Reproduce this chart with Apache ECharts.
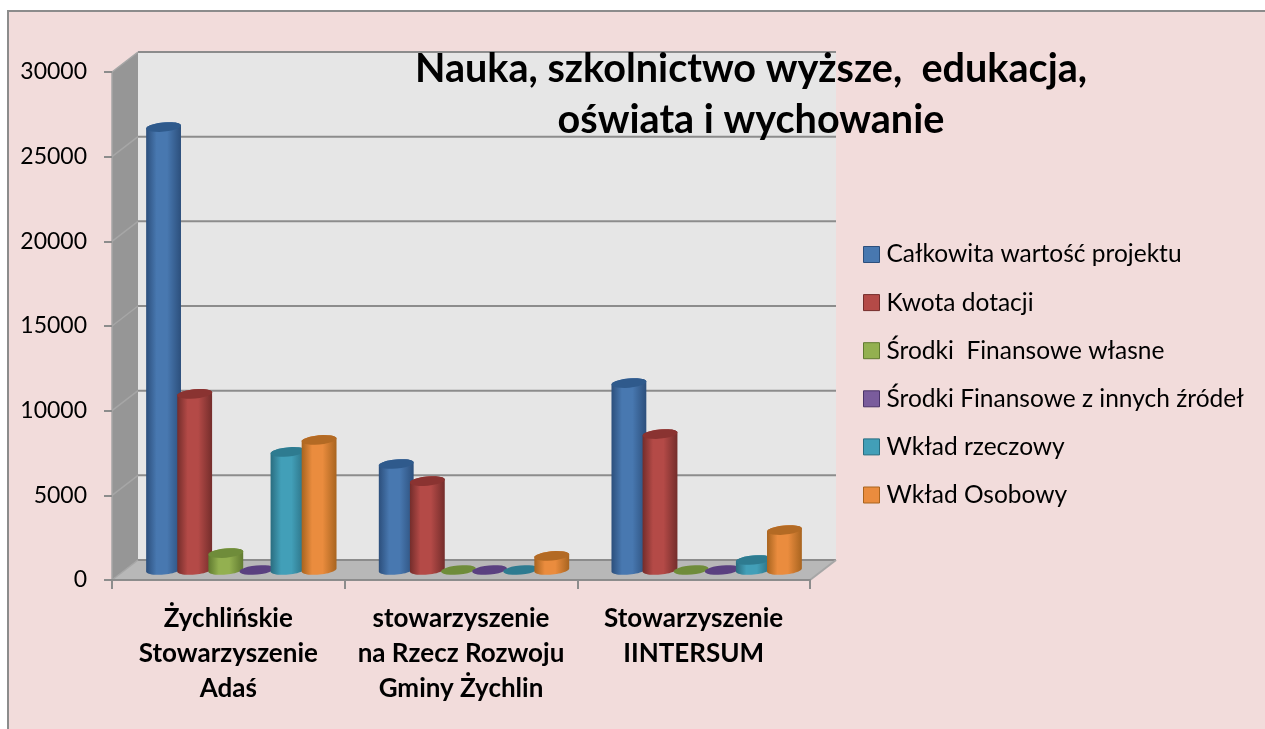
<!DOCTYPE html>
<html>
<head>
<meta charset="utf-8">
<title>Nauka, szkolnictwo wyższe, edukacja, oświata i wychowanie</title>
<script src="https://cdn.jsdelivr.net/npm/echarts@6/dist/echarts.min.js"></script>
<style>
  html, body { margin: 0; padding: 0; background: #fff; overflow: hidden; }
  #box { position: absolute; left: 7px; top: 10px; width: 1300px; height: 800px; background: #f2dcdb;
         border-left: 2px solid #8c8c8c; border-top: 2px solid #8c8c8c; }
  #main { position: absolute; left: 0; top: 0; width: 1265px; height: 729px; }
</style>
</head>
<body>
<div id="box"></div>
<div id="main"></div>
<script>
const categories = ['Żychlińskie\nStowarzyszenie\nAdaś', 'stowarzyszenie\nna Rzecz Rozwoju\nGminy Żychlin', 'Stowarzyszenie\nIINTERSUM']
const seriesNames = ['Całkowita wartość projektu', 'Kwota dotacji', 'Środki  Finansowe własne', 'Środki Finansowe z innych źródeł', 'Wkład rzeczowy', 'Wkład Osobowy']

const calkowita = [26160, 6260, 11040]
const dotacja = [10400, 5250, 8030]
const wlasne = [1000, 0, 0]
const inne = [0, 0, 0]
const rzeczowy = [6970, 0, 590]
const osobowy = [7680, 830, 2360]
const seriesValues = [calkowita, dotacja, wlasne, inne, rzeczowy, osobowy]

// body edge, body middle, top cap
const palette = [
    ['#2c4f7c', '#4878b0', '#2f5a8c'],
    ['#742d2b', '#b44a47', '#8a3331'],
    ['#607a30', '#93b050', '#6f8c3a'],
    ['#4a3468', '#7a5c9c', '#5a4080'],
    ['#2a6d80', '#429fb8', '#2e7b90'],
    ['#a8641f', '#ea8c3e', '#b36a24']
]

const depthX = 26, depthY = 20   // 3d depth of the box
const barStep = 0.1337           // bar spacing, in category bands
const rx = 17.5, ry = 4.6, tilt = -0.095

var dom = document.getElementById('main')
var myChart = echarts.init(dom, null, {renderer: 'canvas'})

function capPoints(cx, cy, from, to) {
    let pts = []
    for (let k = 0; k <= 24; k++) {
        let t = from + (to - from) * k / 24
        let ex = rx * Math.cos(t), ey = ry * Math.sin(t)
        pts.push([cx + ex * Math.cos(tilt) - ey * Math.sin(tilt), cy + ex * Math.sin(tilt) + ey * Math.cos(tilt)])
    }
    return pts
}

function renderCylinder(s) {
    return function(params, api) {
        let band = api.size([1, 0])[0]
        let top = api.coord([api.value(0), api.value(1)])
        let base = api.coord([api.value(0), 0])
        let cx = base[0] + depthX / 2 + (s - 2.5) * barStep * band
        let topY = top[1] - depthY / 2
        let baseY = base[1] - depthY / 2
        let c = palette[s]
        let children = []
        if (api.value(1) > 0) {
            children.push({
                type: 'polygon',
                shape: {points: capPoints(cx, baseY, 0, Math.PI).concat(capPoints(cx, topY, Math.PI, 2 * Math.PI))},
                style: {
                    fill: new echarts.graphic.LinearGradient(0, 0, 1, 0, [
                        {offset: 0, color: c[0]},
                        {offset: 0.3, color: c[1]},
                        {offset: 0.6, color: c[1]},
                        {offset: 1, color: c[0]}
                    ])
                }
            })
        }
        children.push({
            type: 'polygon',
            shape: {points: capPoints(cx, topY, 0, 2 * Math.PI)},
            style: {fill: c[2]}
        })
        return {type: 'group', children: children}
    }
}

// back wall, side wall, floor and their gridlines
function renderBox(params, api) {
    let band = api.size([1, 0])[0]
    let left = api.coord([0, 0])[0] - band / 2
    let right = api.coord([2, 0])[0] + band / 2
    let bottom = api.coord([0, 0])[1]
    let top = api.coord([0, 30000])[1]
    let line = '#8c8c8c'
    let children = [
        {type: 'rect', shape: {x: left + depthX, y: top - depthY, width: right - left, height: bottom - top}, style: {fill: '#e6e6e6'}},
        {type: 'polygon', shape: {points: [[left, top], [left + depthX, top - depthY], [left + depthX, bottom - depthY], [left, bottom]]}, style: {fill: '#969696'}},
        {type: 'polygon', shape: {points: [[left, bottom], [left + depthX, bottom - depthY], [right + depthX, bottom - depthY], [right, bottom]]}, style: {fill: '#b8b8b8'}}
    ]
    for (let v = 0; v <= 30000; v += 5000) {
        let y = api.coord([0, v])[1]
        children.push({type: 'line', shape: {x1: left + depthX, y1: y - depthY, x2: right + depthX, y2: y - depthY}, style: {stroke: line, lineWidth: 2}})
        children.push({type: 'line', shape: {x1: left, y1: y, x2: left + depthX, y2: y - depthY}, style: {stroke: '#a6a6a6', lineWidth: 1.5}})
    }
    children.push({type: 'line', shape: {x1: right, y1: bottom, x2: right + depthX, y2: bottom - depthY}, style: {stroke: '#a6a6a6', lineWidth: 2}})
    return {type: 'group', children: children}
}

let series = [{
    name: 'box',
    type: 'custom',
    z: 0,
    silent: true,
    clip: false,
    renderItem: renderBox,
    data: [[0, 0]]
}]

seriesNames.forEach(function(name, s) {
    series.push({
        name: name,
        type: 'custom',
        z: 2,
        clip: false,
        itemStyle: {color: palette[s][1]},
        renderItem: renderCylinder(s),
        encode: {x: 0, y: 1},
        data: seriesValues[s].map(function(v, i) { return [i, v] })
    })
})

let option = {
    animation: false,
    backgroundColor: 'transparent',
    textStyle: {fontFamily: 'Lato'},
    title: {
        text: 'Nauka, szkolnictwo wyższe,  edukacja,\noświata i wychowanie',
        left: 746,
        top: 39,
        textAlign: 'center',
        z: 5,
        textStyle: {fontFamily: 'Lato', fontSize: 39.6, fontWeight: 'bold', color: '#000', lineHeight: 51, align: 'center'}
    },
    legend: {
        orient: 'vertical',
        left: 858,
        top: 237,
        itemWidth: 16,
        itemHeight: 16,
        itemGap: 23.1,
        icon: 'rect',
        selectedMode: false,
        textStyle: {fontFamily: 'Lato', fontSize: 24.5, color: '#000', padding: [0, 0, 0, 2]},
        data: seriesNames.map(function(name, s) {
            return {name: name, itemStyle: {color: palette[s][1], borderColor: palette[s][0], borderWidth: 1}}
        })
    },
    grid: {left: 112, top: 72, right: 455, bottom: 149, containLabel: false},
    xAxis: {
        type: 'category',
        data: categories,
        z: 1,
        axisLine: {lineStyle: {color: '#8c8c8c', width: 2}},
        axisTick: {show: true, alignWithLabel: false, length: 9, lineStyle: {color: '#8c8c8c', width: 2}},
        axisLabel: {interval: 0, margin: 21, fontFamily: 'Lato', fontSize: 26, fontWeight: 'bold', color: '#000', lineHeight: 35}
    },
    yAxis: {
        type: 'value',
        min: 0,
        max: 30000,
        interval: 5000,
        z: 1,
        splitLine: {show: false},
        axisLine: {show: true, lineStyle: {color: '#a6a6a6', width: 1.5}},
        axisTick: {show: true, length: 8, lineStyle: {color: '#8c8c8c', width: 2}},
        axisLabel: {margin: 25, fontFamily: 'Lato', fontSize: 23, color: '#000', padding: [3, 0, 0, 0], formatter: function(v) { return String(v) }}
    },
    series: series
}

myChart.setOption(option, true)
</script>
</body>
</html>
